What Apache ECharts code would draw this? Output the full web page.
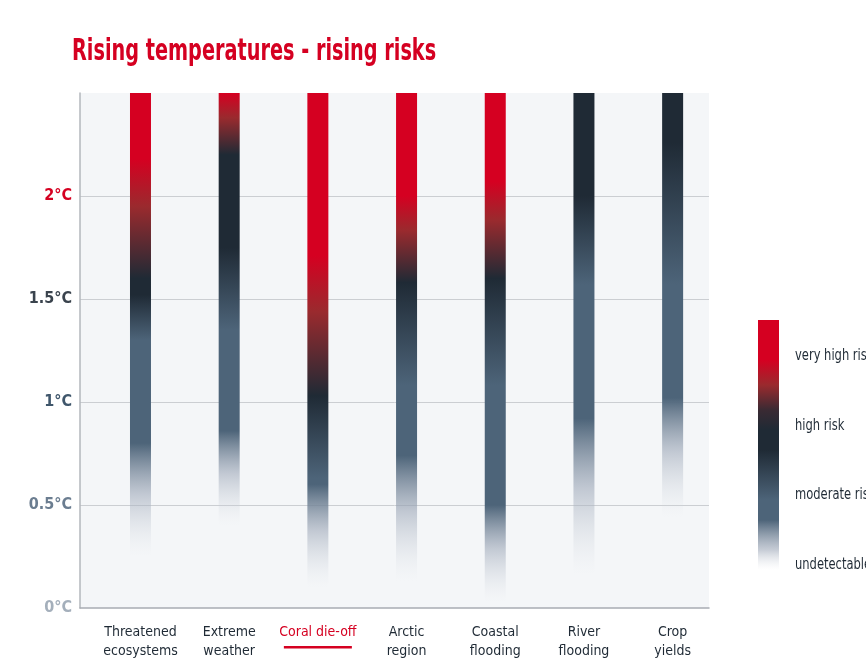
<!DOCTYPE html>
<html>
<head>
<meta charset="utf-8">
<script src="https://cdn.jsdelivr.net/npm/echarts@6/dist/echarts.min.js"></script>
<style>
  html, body { margin: 0; padding: 0; background: #fff; }
  #main { width: 866px; height: 660px; }
</style>
</head>
<body>
<div id="main"></div>
<script>
var FONT = "'DejaVu Sans Condensed', 'Roboto', sans-serif";

// categories along the x axis
var categories = ['Threatened\necosystems', 'Extreme\nweather', 'Coral die-off', 'Arctic\nregion',
  'Coastal\nflooding', 'River\nflooding', 'Crop\nyields'];
var highlightCategory = 2; // Coral die-off

// warming (°C) where each risk transition starts and ends, per category
var undetToModerate = [[0.25, 0.80], [0.40, 0.86], [0.10, 0.60], [0.13, 0.74], [0.03, 0.50], [0.16, 0.92], [0.44, 1.02]];
var moderateToHigh = [[1.30, 1.52], [1.35, 1.75], [0.63, 1.03], [1.08, 1.58], [1.08, 1.60], [1.57, 2.00], [1.57, 2.26]];
var highToVeryHigh = [[1.60, 2.18], [2.20, 2.50], [1.03, 1.71], [1.58, 2.00], [1.60, 2.07], null, null];

// y axis
var yMax = 2.5;
var yTicks = [0, 0.5, 1, 1.5, 2];
var yTickLabels = ['0°C', '0.5°C', '1°C', '1.5°C', '2°C'];
var yTickColors = ['#a4afbb', '#6b7d90', '#3f566b', '#3a434d', '#d50021'];

// legend
var legendLabels = ['very high risk', 'high risk', 'moderate risk', 'undetectable'];

var RED = '#d50021', BROWN = '#9a2a2e', DARK = '#1f2a35', SLATE = '#4d6479', MIST = 'rgba(160,170,186,0.6)', CLEAR = 'rgba(220,224,230,0)';

function emberGradient(i) {
  var s = [];
  function stop(t, c) { s.push({ offset: Math.max(0, Math.min(1, t / yMax)), color: c }); }
  var a = undetToModerate[i], b = moderateToHigh[i], c = highToVeryHigh[i];
  stop(0, CLEAR);
  stop(a[0], CLEAR);
  stop(a[0] + (a[1] - a[0]) * 0.55, MIST);
  stop(a[1], SLATE);
  stop(b[0], SLATE);
  stop(b[1], DARK);
  if (c) {
    stop(c[0], DARK);
    stop(c[0] + (c[1] - c[0]) * 0.6, BROWN);
    stop(c[1], RED);
    stop(yMax, RED);
  } else {
    stop(yMax, DARK);
  }
  return new echarts.graphic.LinearGradient(0, 1, 0, 0, s);
}

var barData = categories.map(function (name, i) {
  return { value: [i, yMax], itemStyle: { color: emberGradient(i) } };
});

var chart = echarts.init(document.getElementById('main'), null, { renderer: 'canvas' });

var option = {
  backgroundColor: '#ffffff',
  animation: false,
  grid: {
    left: 80, right: 157, top: 93, bottom: 52,
    outerBoundsMode: 'none',
    show: true, backgroundColor: '#f4f6f8', borderWidth: 0
  },
  xAxis: {
    type: 'value',
    min: -0.682,
    max: 6.41,
    splitLine: { show: false },
    axisTick: { show: false },
    axisLine: { show: true, onZero: false, lineStyle: { color: '#a8acb2', width: 1.5 } },
    axisLabel: {
      customValues: categories.map(function (c, i) { return i; }),
      formatter: function (v) { return categories[Math.round(v)]; },
      color: function (v) { return Math.round(v) === highlightCategory ? RED : '#1f2a35'; },
      fontFamily: FONT,
      fontSize: 14,
      lineHeight: 19,
      margin: 15,
      align: 'center'
    }
  },
  yAxis: {
    type: 'value',
    min: 0,
    max: yMax,
    interval: 0.5,
    axisLine: { show: true, onZero: false, lineStyle: { color: '#b3b7bd', width: 1.5 } },
    axisTick: { show: false },
    splitLine: { showMaxLine: false, showMinLine: false, lineStyle: { color: '#cbced2', width: 1 } },
    axisLabel: {
      margin: 8,
      fontFamily: FONT,
      fontSize: 16,
      fontWeight: 'bold',
      formatter: function (v) {
        var k = yTicks.indexOf(v);
        return k < 0 ? '' : yTickLabels[k];
      },
      color: function (v) {
        var k = yTicks.indexOf(Number(v));
        return k < 0 ? '#fff' : yTickColors[k];
      }
    }
  },
  series: [{
    type: 'bar',
    barWidth: 21,
    data: barData
  }],
  graphic: [
    {
      type: 'text',
      x: 72, y: 37,
      scaleX: 0.714,
      style: { text: 'Rising temperatures - rising risks', fill: RED, font: 'bold 30px ' + FONT }
    },
    {
      type: 'rect',
      left: 758, top: 320,
      shape: { width: 21, height: 250 },
      style: {
        fill: new echarts.graphic.LinearGradient(0, 0, 0, 1, [
          { offset: 0, color: RED },
          { offset: 0.16, color: RED },
          { offset: 0.26, color: BROWN },
          { offset: 0.36, color: '#3a2a33' },
          { offset: 0.44, color: DARK },
          { offset: 0.52, color: DARK },
          { offset: 0.72, color: SLATE },
          { offset: 0.80, color: SLATE },
          { offset: 0.92, color: MIST },
          { offset: 1, color: CLEAR }
        ])
      }
    }
  ].concat(legendLabels.map(function (t, i) {
    return {
      type: 'text',
      x: 795,
      y: 348 + i * 69.5,
      scaleX: 0.8,
      style: { text: t, fill: '#1f2a35', font: '16px ' + FONT }
    };
  }))
};

chart.setOption(option);

// underline under the highlighted category label
var px = chart.convertToPixel({ xAxisIndex: 0, yAxisIndex: 0 }, [highlightCategory, 0]);
chart.setOption({
  graphic: option.graphic.concat([{
    type: 'rect',
    shape: { x: px[0] - 34, y: px[1] + 38, width: 68, height: 2.5 },
    style: { fill: RED }
  }])
});
</script>
</body>
</html>
